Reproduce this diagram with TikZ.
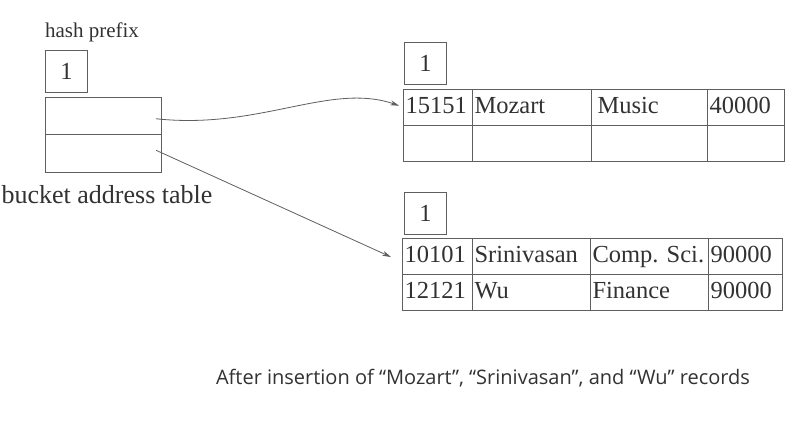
\documentclass[tikz,border=0pt]{standalone}
\usepackage{fontspec}
\setmainfont{Liberation Serif}
\newfontfamily\captionfont{Open Sans}
\usetikzlibrary{arrows.meta, positioning}
\definecolor{inkgray}{RGB}{50, 50, 50}
\definecolor{linegray}{RGB}{95, 95, 95}
\frenchspacing

\begin{document}
\begin{tikzpicture}[
    x=1pt, y=-1pt,
    cell/.style={
        draw=linegray, line width=0.9pt, text width=#1,
        inner xsep=2.5pt, inner ysep=0pt, outer sep=0pt,
        minimum height=36pt, text height=17pt, text depth=5pt,
        align=left, font=\fontsize{24.5}{28}\selectfont, text=inkgray
    },
    prefixbox/.style={
        draw=linegray, line width=0.9pt, minimum size=42pt, inner sep=0pt,
        font=\fontsize{24.5}{28}\selectfont, text=inkgray
    },
    tablecell/.style={
        draw=linegray, line width=0.9pt, minimum width=116pt,
        minimum height=37.5pt, inner sep=0pt, outer sep=0pt
    },
    tagtext/.style={text=inkgray, inner sep=0pt},
    pointer/.style={-{Stealth[length=9pt, width=5pt]}, linegray, line width=0.8pt}
]
\fill[white] (0,0) rectangle (792,428);
\useasboundingbox (0,0) rectangle (792,428);

% bucket address table - left
\node[tagtext, font=\fontsize{21}{24}\selectfont] (hashtag) at (92,32) {hash prefix};
\node[prefixbox, anchor=north west] (gprefix) at (45,50) {1};
\node[tablecell, anchor=north west] (bat0) at (45,97) {};
\node[tablecell, below=0pt of bat0] (bat1) {};
\node[tagtext, font=\fontsize{26}{30}\selectfont] (battag) at (107,195) {bucket address table};

% first bucket
\node[prefixbox, anchor=north west] (lprefix1) at (404,42) {1};
\node[cell=64pt, anchor=north west] (b1r1c1) at (403,89) {15151};
\node[cell=114pt, right=0pt of b1r1c1] (b1r1c2) {Mozart};
\node[cell=111pt, right=0pt of b1r1c2] (b1r1c3) {\hspace{4pt}Music};
\node[cell=72pt, right=0pt of b1r1c3] (b1r1c4) {40000};
\node[cell=64pt, below=0pt of b1r1c1] (b1r2c1) {};
\node[cell=114pt, below=0pt of b1r1c2] (b1r2c2) {};
\node[cell=111pt, below=0pt of b1r1c3] (b1r2c3) {};
\node[cell=72pt, below=0pt of b1r1c4] (b1r2c4) {};

% second bucket
\node[prefixbox, anchor=north west] (lprefix2) at (404,192) {1};
\node[cell=65pt, anchor=north west] (b2r1c1) at (402,238) {10101};
\node[cell=113pt, right=0pt of b2r1c1] (b2r1c2) {Srinivasan};
\node[cell=113pt, right=0pt of b2r1c2] (b2r1c3) {Comp.~Sci.};
\node[cell=69pt, right=0pt of b2r1c3] (b2r1c4) {90000};
\node[cell=65pt, below=0pt of b2r1c1] (b2r2c1) {12121};
\node[cell=113pt, below=0pt of b2r1c2] (b2r2c2) {Wu};
\node[cell=113pt, below=0pt of b2r1c3] (b2r2c3) {Finance};
\node[cell=69pt, below=0pt of b2r1c4] (b2r2c4) {90000};

% pointers from the table entries
\coordinate (ptr0) at ([xshift=-5pt, yshift=-3pt]bat0.east);
\coordinate (ptr1) at ([xshift=-5pt, yshift=3pt]bat1.east);
\coordinate (ptr1end) at ([yshift=-6pt]b2r1c1.west);
\draw[pointer, shorten >=4pt] (ptr0) .. controls (260,130) and (330,82) .. (b1r1c1.west);
\draw[pointer, shorten >=12pt] (ptr1) -- (ptr1end);

% caption
\node[tagtext, font=\captionfont\fontsize{20}{24}\selectfont, text=inkgray] (caption) at (483,378)
    {After insertion of “Mozart”, “Srinivasan”, and “Wu” records};
\end{tikzpicture}
\end{document}
